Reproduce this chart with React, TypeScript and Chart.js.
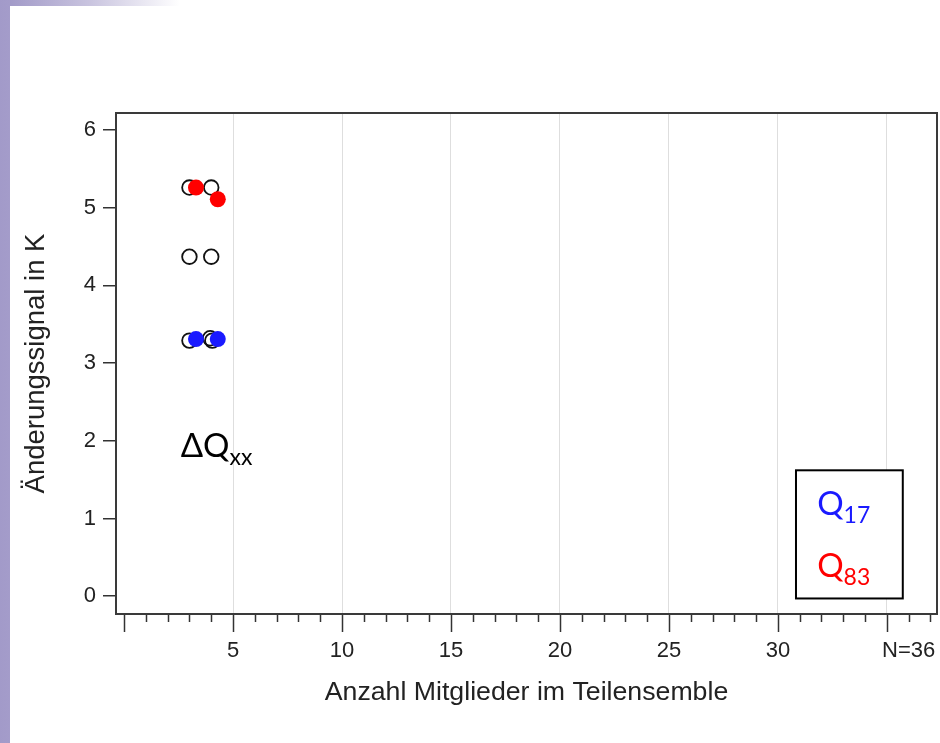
import React, { useEffect, useRef } from 'react';
import { Chart, registerables } from 'chart.js';

Chart.register(...registerables);

// ---- data ----
const openX = [3, 4, 3, 4, 3, 3.95, 4.05];
const openY = [5.26, 5.26, 4.37, 4.37, 3.29, 3.32, 3.29];
const q83X = [3.3, 4.3];
const q83Y = [5.26, 5.11];
const q17X = [3.3, 4.3];
const q17Y = [3.31, 3.31];

const xMajorLabels = [5, 10, 15, 20, 25, 30];
const xEndValue = 36;
const xEndLabel = 'N=36';
const xTickFrom = 0;
const xTickTo = 37;
const yTicks = [0, 1, 2, 3, 4, 5, 6];

const xTitle = 'Anzahl Mitglieder im Teilensemble';
const yTitle = 'Änderungssignal in K';

const AXIS_FONT = '"Liberation Sans", Arial, Helvetica, sans-serif';
const NOTE_FONT = 'Lato, "Noto Sans", "Open Sans", sans-serif';

const toPts = (xs: number[], ys: number[]) => xs.map((x, i) => ({ x, y: ys[i] }));

const decor = {
  id: 'decor',
  afterDraw(chart: any) {
    const { ctx, chartArea: a, scales } = chart;
    const x = scales.x;
    const y = scales.y;
    ctx.save();
    // x tick marks (major every 5, minor every 1)
    ctx.strokeStyle = '#333';
    ctx.lineWidth = 1.5;
    for (let v = xTickFrom; v <= xTickTo; v++) {
      const px = Math.round(x.getPixelForValue(v)) + 0.5;
      const len = v % 5 === 0 ? 18 : 8;
      ctx.beginPath();
      ctx.moveTo(px, a.bottom);
      ctx.lineTo(px, a.bottom + len);
      ctx.stroke();
    }
    // frame
    ctx.strokeStyle = '#3a3a3a';
    ctx.lineWidth = 2;
    ctx.strokeRect(a.left, a.top, a.right - a.left, a.bottom - a.top);

    // helper for Q with subscript
    const drawQ = (prefix: string, sub: string, vx: number, vy: number, color: string) => {
      const px = x.getPixelForValue(vx);
      const py = y.getPixelForValue(vy);
      ctx.fillStyle = color;
      ctx.textAlign = 'left';
      ctx.textBaseline = 'alphabetic';
      ctx.font = `33px ${NOTE_FONT}`;
      ctx.fillText(prefix, px, py);
      const w = ctx.measureText(prefix).width;
      ctx.font = `23px ${NOTE_FONT}`;
      ctx.fillText(sub, px + w, py + 8);
    };

    drawQ('ΔQ', 'xx', 2.6, 1.79, '#000');

    // legend box
    const bx1 = x.getPixelForValue(30.83);
    const bx2 = x.getPixelForValue(35.73);
    const by1 = y.getPixelForValue(1.62);
    const by2 = y.getPixelForValue(-0.03);
    ctx.fillStyle = '#fff';
    ctx.fillRect(bx1, by1, bx2 - bx1, by2 - by1);
    ctx.strokeStyle = '#000';
    ctx.lineWidth = 2;
    ctx.strokeRect(bx1, by1, bx2 - bx1, by2 - by1);
    drawQ('Q', '17', 31.8, 1.04, '#1a1aff');
    drawQ('Q', '83', 31.8, 0.245, '#ff0000');
    ctx.restore();
  },
};

export default function App() {
  const ref = useRef<HTMLCanvasElement | null>(null);
  useEffect(() => {
    if (!ref.current) return;
    const chart = new Chart(ref.current, {
      type: 'scatter',
      data: {
        datasets: [
          {
            label: 'Q17',
            data: toPts(q17X, q17Y),
            pointRadius: 8,
            pointBackgroundColor: '#1a1aff',
            pointBorderWidth: 0,
            pointBorderColor: 'rgba(0,0,0,0)',
          },
          {
            label: 'Q83',
            data: toPts(q83X, q83Y),
            pointRadius: 8,
            pointBackgroundColor: '#ff0000',
            pointBorderWidth: 0,
            pointBorderColor: 'rgba(0,0,0,0)',
          },
          {
            label: 'members',
            data: toPts(openX, openY),
            pointRadius: 7.3,
            pointBackgroundColor: 'rgba(0,0,0,0)',
            pointBorderColor: '#111',
            pointBorderWidth: 1.8,
          },
        ],
      },
      options: {
        animation: false,
        responsive: false,
        devicePixelRatio: 1,
        layout: { autoPadding: false, padding: { left: 20, right: 3, top: 113, bottom: 29 } },
        plugins: { legend: { display: false }, tooltip: { enabled: false } },
        scales: {
          x: {
            type: 'linear',
            min: -0.37,
            max: 37.3,
            afterFit: (s: any) => { s.height = 100; s.paddingRight = 0; s.paddingLeft = 0; },
            border: { display: false },
            grid: {
              drawTicks: true,
              tickLength: 18,
              tickColor: 'rgba(0,0,0,0)',
              lineWidth: 1,
              color: (c: any) =>
                c.tick && c.tick.value % 5 === 0 && c.tick.value > 0 ? '#dedede' : 'rgba(0,0,0,0)',
            },
            ticks: {
              stepSize: 1,
              includeBounds: false,
              autoSkip: false,
              maxRotation: 0,
              padding: 6,
              color: '#222',
              font: { family: AXIS_FONT, size: 22 },
              callback: (v: any) => {
                if (xMajorLabels.includes(v)) return String(v);
                if (v === xEndValue) return xEndLabel;
                return '';
              },
            },
            title: {
              display: true,
              text: xTitle,
              color: '#222',
              font: { family: AXIS_FONT, size: 26.7 },
              padding: { top: 0, bottom: 5 },
            },
          },
          y: {
            type: 'linear',
            min: -0.23,
            max: 6.22,
            afterFit: (s: any) => { s.width = 96; },
            border: { display: false },
            grid: {
              drawOnChartArea: false,
              drawTicks: true,
              tickLength: 13,
              tickColor: '#333',
              lineWidth: 1.5,
            },
            ticks: {
              stepSize: 1,
              includeBounds: false,
              padding: 7,
              color: '#222',
              font: { family: AXIS_FONT, size: 22 },
              callback: (v: any) => (yTicks.includes(v) ? String(v) : ''),
            },
            title: {
              display: true,
              text: yTitle,
              color: '#222',
              font: { family: AXIS_FONT, size: 27.5 },
              padding: { top: 0, bottom: 0 },
            },
          },
        },
      },
      plugins: [decor],
    } as any);
    return () => chart.destroy();
  }, []);

  return (
    <div
      style={{
        position: 'fixed',
        left: 0,
        top: 0,
        width: 940,
        height: 743,
        background:
          'linear-gradient(to right, #a29ac9 0px, #a49cca 10px, rgba(255,255,255,0) 10px), linear-gradient(to right, #9d95c5 0px, #c9c4df 90px, #ffffff 180px) top left / 100% 6px no-repeat, #ffffff',
      }}
    >
      <canvas ref={ref} width={940} height={743} style={{ display: 'block' }} />
    </div>
  );
}
